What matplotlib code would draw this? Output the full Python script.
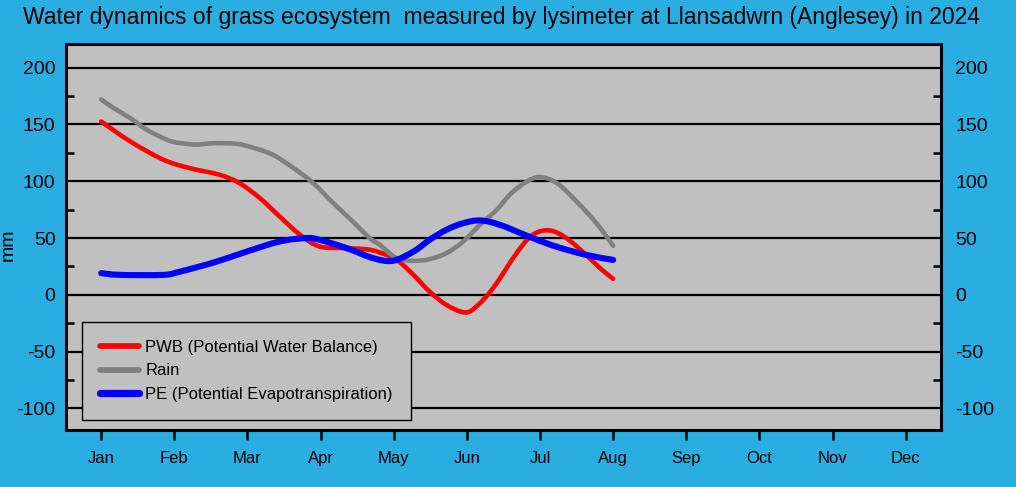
# -*- coding: utf-8 -*-

# Import required packages
import matplotlib as mpl
mpl.use('Agg')
import matplotlib.pyplot as plt
from matplotlib.path import Path
from matplotlib.patches import PathPatch
from matplotlib.lines import Line2D
import numpy as np

# Fonts: Arial-like everywhere, plain hyphen for negative numbers
plt.rcParams['font.family'] = ['Liberation Sans', 'DejaVu Sans']
plt.rcParams['axes.unicode_minus'] = False

# Month labels along the x axis (Jan = 0)
months = ['Jan', 'Feb', 'Mar', 'Apr', 'May', 'Jun', 'Jul', 'Aug', 'Sep', 'Oct', 'Nov', 'Dec']

# Values (position in months, mm)
pwb_t = [0, 0.40, 0.85, 1.21, 1.62, 1.89, 2.17, 2.44, 2.72, 2.99, 3.36, 3.64, 3.81, 4.04,
         4.27, 4.49, 4.72, 4.97, 5.13, 5.36, 5.68, 5.90, 6.13, 6.36, 6.63, 6.82, 7.0]
pwb = [152.6, 135, 119, 111.6, 105.7, 98.4, 85.2, 69, 52.9, 42.5, 41.1, 40, 37.3, 30.8,
       17.6, 2.9, -8.8, -15.5, -10.3, 6, 36.7, 52.9, 56.7, 50, 35.2, 23.5, 14.1]

rain_t = [0, 0.17, 0.40, 0.62, 0.90, 1.08, 1.31, 1.53, 1.85, 2.08, 2.35, 2.63, 2.90, 3.17,
          3.45, 3.67, 3.81, 4.04, 4.27, 4.49, 4.72, 4.95, 5.18, 5.41, 5.60, 5.82, 6.0,
          6.23, 6.50, 6.77, 7.0]
rain = [172, 164.5, 155.5, 145.5, 136.5, 133.6, 132.3, 133.5, 133, 129.5, 123.3, 111.6, 98.4, 81,
        64, 50, 44, 32.3, 30, 31.4, 36.7, 47, 61.7, 75, 89, 99.8, 103.7,
        98.4, 82.2, 63.2, 43.2]

pe_t = [0, 0.26, 0.85, 1.08, 1.54, 1.99, 2.44, 2.81, 2.99, 3.36, 3.72, 3.99, 4.27, 4.49,
        4.72, 4.95, 5.18, 5.45, 5.90, 6.22, 6.63, 7.0]
pe = [19.1, 17.6, 17.6, 20.5, 28.5, 38.1, 47, 50, 48.4, 41.1, 32.3, 30, 38.1, 48.4,
      57.3, 63.1, 65.5, 61.7, 50, 42.5, 35.2, 30.8]


def smooth_path(x, y):
    # Catmull-Rom style cubic Bezier through the points (like a "smoothed line")
    p = np.column_stack([x, y]).astype(float)
    verts = [p[0]]
    codes = [Path.MOVETO]
    n = len(p)
    for i in range(n - 1):
        p0 = p[i - 1] if i > 0 else p[i]
        p1, p2 = p[i], p[i + 1]
        p3 = p[i + 2] if i + 2 < n else p[i + 1]
        verts += [p1 + (p2 - p0) / 6, p2 - (p3 - p1) / 6, p2]
        codes += [Path.CURVE4] * 3
    return Path(verts, codes)


bg = '#2AAEE2'
fig = plt.figure(figsize=(10.16, 4.87), dpi=100, facecolor=bg)
ax = fig.add_axes([0.065, 0.117, 0.861, 0.793], facecolor='#C0C0C0')

# Plot the three series as smoothed lines
series = [(pwb_t, pwb, '#FF0000', 3.3, 'PWB (Potential Water Balance)'),
          (rain_t, rain, '#808080', 3.3, 'Rain'),
          (pe_t, pe, '#0000FF', 4.4, 'PE (Potential Evapotranspiration)')]
handles = []
for t, v, c, w, lab in series:
    patch = PathPatch(smooth_path(t, v), facecolor='none', edgecolor=c, lw=w,
                      capstyle='round', joinstyle='round', zorder=3)
    ax.add_patch(patch)
    handles.append(Line2D([], [], color=c, lw=w + 0.8, solid_capstyle='round', label=lab))

ax.set_xlim(-0.48, 11.48)
ax.set_ylim(-119, 221)

# Axis ticks
ax.set_xticks(range(12))
ax.set_xticklabels(months, fontsize=12)
ax.set_yticks(np.arange(-100, 201, 50))
ax.set_yticks(np.arange(-75, 201, 50), minor=True)
ax.xaxis.set_tick_params(which='major', size=7, width=1.8, direction='out', pad=8)
ax.yaxis.set_tick_params(which='major', size=0, labelsize=14, pad=7.5)
ax.yaxis.set_tick_params(which='minor', size=6, width=1.8, direction='in', left=True)
ax.grid(axis='y', which='major', color='black', lw=1.6, zorder=1)
ax.set_axisbelow(True)
for s in ax.spines.values():
    s.set_linewidth(2.2)
    s.set_color('black')

# Right-hand labels and ticks on a twin axis so they can sit a bit further out
ax2 = ax.twinx()
ax2.set_ylim(ax.get_ylim())
ax2.set_yticks(np.arange(-100, 201, 50))
ax2.set_yticks(np.arange(-75, 201, 50), minor=True)
ax2.tick_params(axis='y', which='major', size=0, labelsize=14, pad=10.5)
ax2.tick_params(axis='y', which='minor', size=6, width=1.8, direction='in')
for s in ax2.spines.values():
    s.set_visible(False)

ax.set_ylabel('mm', fontsize=14)
ax.yaxis.set_label_coords(-0.056, 0.48)

# Title
fig.text(0.494, 0.965, 'Water dynamics of grass ecosystem  measured by lysimeter at Llansadwrn (Anglesey) in 2024',
         ha='center', va='center', fontsize=16.5)

# Legend box
leg = ax.legend(handles=handles, loc='lower left', mode='expand',
                bbox_to_anchor=(0.0183, 0.0259, 0.376, 0.2), fontsize=12,
                facecolor='#C0C0C0', edgecolor='black', framealpha=1, fancybox=False,
                handlelength=2.3, handletextpad=0.4, borderpad=1.1, labelspacing=0.5,
                borderaxespad=0)
leg.get_frame().set_linewidth(1)
leg.set_zorder(5)

plt.savefig('out.png', dpi=100, facecolor=bg)
